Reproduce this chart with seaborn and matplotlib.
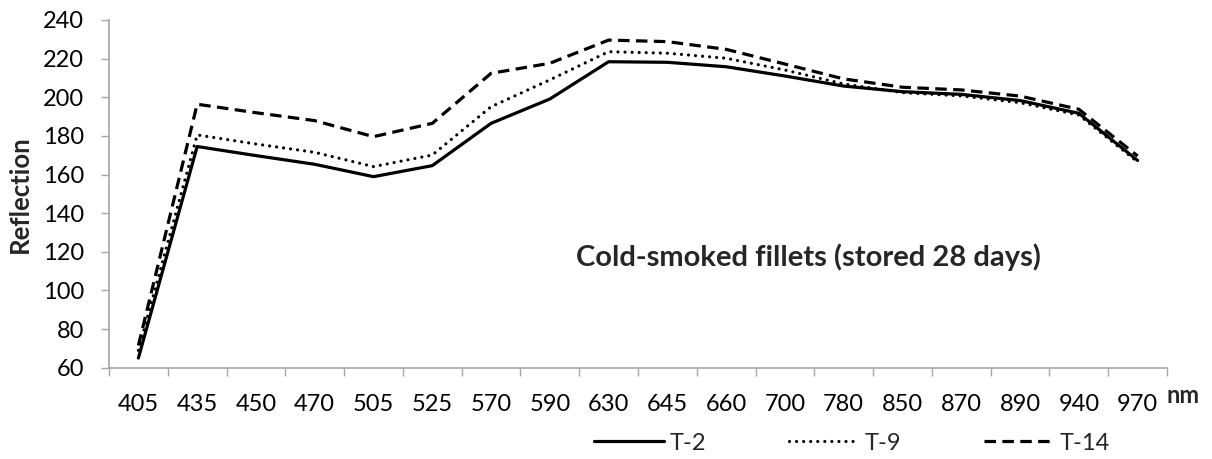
import matplotlib
matplotlib.use("Agg")
import matplotlib.pyplot as plt
import seaborn as sns
import pandas as pd
from matplotlib.ticker import FixedLocator

wavelengths = ["405", "435", "450", "470", "505", "525", "570", "590", "630",
               "645", "660", "700", "780", "850", "870", "890", "940", "970"]
t2 = [65, 174.5, 169.8, 165.3, 158.9, 164.6, 186.5, 199.1, 218.4,
      218.1, 215.8, 211.0, 205.8, 202.9, 201.5, 198.3, 191.7, 167.3]
t9 = [69, 180.5, 175.8, 171.5, 164.1, 170.1, 195.1, 209.0, 223.6,
      222.8, 220.2, 214.1, 206.9, 202.4, 200.7, 197.2, 190.8, 166.5]
t14 = [71.5, 196.4, 192.0, 187.9, 179.6, 186.5, 212.4, 217.6, 229.6,
       228.8, 224.8, 217.2, 209.5, 205.2, 203.8, 200.6, 193.8, 169.6]
series_names = ["T-2", "T-9", "T-14"]

sns.set_style("white")
plt.rcParams["font.family"] = ["Lato", "DejaVu Sans"]

pos = list(range(len(wavelengths)))
df = pd.DataFrame({"pos": pos * 3,
                   "value": t2 + t9 + t14,
                   "series": [s for s in series_names for _ in wavelengths]})

fig = plt.figure(figsize=(12.12, 4.59), dpi=100)
ax = fig.add_axes([109/1212, 1 - 367.7/459, (1167 - 109)/1212, (367.7 - 20)/459])

styles = {
    "T-2": dict(linestyle="-"),
    "T-9": dict(dashes=(0.01, 2.2), dash_capstyle="round"),
    "T-14": dict(dashes=(3.6, 2.0)),
}
for name in series_names:
    sub = df[df["series"] == name]
    sns.lineplot(data=sub, x="pos", y="value", ax=ax, color="black",
                 linewidth=2.3, label=name, legend=False, **styles[name])

ax.set_xlim(-0.5, len(wavelengths) - 0.5)
ax.set_ylim(60, 240)
ax.set_yticks(range(60, 241, 20))
ax.set_xticks(pos)
ax.set_xticklabels(wavelengths)
ax.xaxis.set_minor_locator(FixedLocator([p - 0.5 for p in pos] + [len(pos) - 0.5]))
ax.tick_params(axis="x", which="major", length=0, labelsize=17, pad=19, colors="black")
ax.tick_params(axis="x", which="minor", length=6, width=1, color="#a6a6a6", bottom=True)
ax.tick_params(axis="y", length=6, width=1, color="#a6a6a6", labelsize=17, pad=12,
               left=True, labelcolor="black")
for s in ["top", "right"]:
    ax.spines[s].set_visible(False)
for s in ["left", "bottom"]:
    ax.spines[s].set_color("#a6a6a6")
    ax.spines[s].set_linewidth(1.2)

ax.set_xlabel("")
ax.set_ylabel("Reflection", fontsize=18.5, fontweight="bold", labelpad=8)

fig.text(808/1212, 1 - 257/459, "Cold-smoked fillets (stored 28 days)",
         fontsize=21, fontweight="bold", ha="center", va="center")
fig.text(1183/1212, 1 - 403/459, "nm", fontsize=17, fontweight="bold",
         ha="center", va="baseline")

handles, labels = ax.get_legend_handles_labels()
fig.legend(handles, labels, loc="center", bbox_to_anchor=(852/1212, 1 - 443/459),
           ncol=3, frameon=False, fontsize=17, handlelength=2.95,
           handletextpad=0.25, columnspacing=3.5)

fig.savefig("out.png", dpi=100)
